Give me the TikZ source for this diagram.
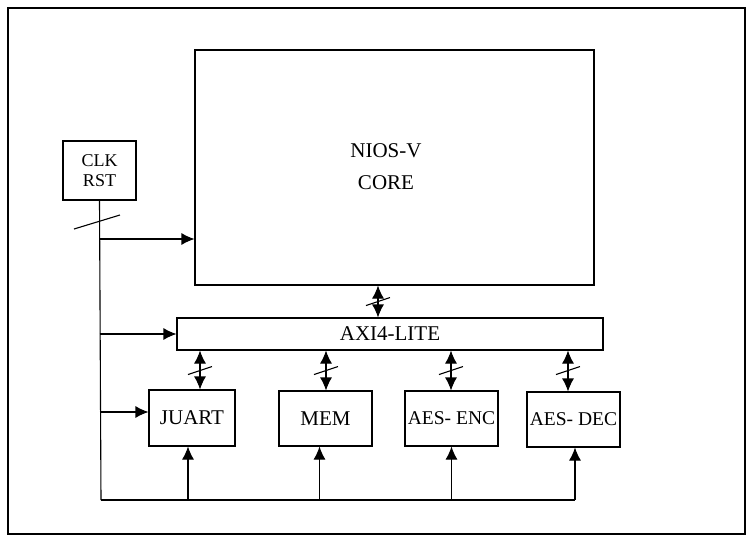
\documentclass[tikz,border=0pt]{standalone}
\usepackage{fontspec}
\setmainfont{Liberation Serif}
\usetikzlibrary{arrows.meta,calc}

\begin{document}
\begin{tikzpicture}[x=1pt,y=-1pt,
    every node/.style={shape=rectangle, draw, line width=1.1pt, align=center,
      inner sep=0pt, font=\fontsize{21}{24}\selectfont},
    txt/.style={draw=none},
    arr/.style={line width=1.1pt, -{Latex[length=13pt,width=12pt]}},
    biarr/.style={line width=1.1pt, {Latex[length=13pt,width=12pt]}-{Latex[length=13pt,width=12pt]}},
    slash/.style={line width=1.1pt}]
  \useasboundingbox (0,0) rectangle (753,542);
  \draw[line width=1.1pt] (8,8) rectangle (745,534);

  % blocks
  \node (core) [minimum width=399pt, minimum height=235pt] at (394.5,167.5) {};
  \node (coretxt) [txt, font=\fontsize{21}{32}\selectfont] at (386,167) {NIOS-V\\CORE};
  \node (clk) [minimum width=73pt, minimum height=59pt,
    font=\fontsize{18}{20}\selectfont] at (99.5,170.5) {CLK\\RST};
  \node (axi) [minimum width=426pt, minimum height=32pt] at (390,334) {AXI4-LITE};
  \node (juart) [minimum width=86pt, minimum height=56pt] at (192,418) {JUART};
  \node (mem) [minimum width=93pt, minimum height=55pt] at (325.5,418.5) {MEM};
  \node (enc) [minimum width=93pt, minimum height=55pt,
    font=\fontsize{19.5}{22}\selectfont] at (451.5,418.5) {AES- ENC};
  \node (dec) [minimum width=93pt, minimum height=55pt,
    font=\fontsize{19.5}{22}\selectfont] at (573.5,419.5) {AES- DEC};

  % clock / reset distribution
  \coordinate (cbot) at (101,500);
  \draw[line width=1.1pt] (clk.south) -- (cbot);
  \draw[slash] (74,229) -- (120,215);
  \draw[arr] (clk.south |- 0,239) -- (core.west |- 0,239);
  \draw[arr] (clk.south |- 0,334) -- (axi.west);
  \draw[arr] (clk.south |- 0,412) -- (juart.west |- 0,412);
  \coordinate (bend) at (575,500);
  \draw[line width=1.1pt] (cbot) -- (bend);
  \draw[arr] (juart.south |- cbot) ++(-4,0) coordinate (b1) -- (b1 |- juart.south);
  \draw[arr] (mem.south |- cbot) ++(-6,0) coordinate (b2) -- (b2 |- mem.south);
  \draw[arr] (enc.south |- cbot) coordinate (b3) -- (b3 |- enc.south);
  \draw[arr] (bend) -- (bend |- dec.south);

  % bus links
  \draw[biarr] (core.south -| 378,0) coordinate (m0) -- (m0 |- axi.north);
  \draw[biarr] (axi.south -| 200,0) coordinate (m1) -- (m1 |- juart.north);
  \draw[biarr] (axi.south -| 326,0) coordinate (m2) -- (m2 |- mem.north);
  \draw[biarr] (axi.south -| 451,0) coordinate (m3) -- (m3 |- enc.north);
  \draw[biarr] (axi.south -| 568,0) coordinate (m4) -- (m4 |- dec.north);
  \foreach \m/\y in {m0/16, m1/20, m2/20, m3/20, m4/20} {
    \draw[slash] ($(\m)+(-12,\y+4)$) -- ($(\m)+(12,\y-4)$);
  }
\end{tikzpicture}
\end{document}
